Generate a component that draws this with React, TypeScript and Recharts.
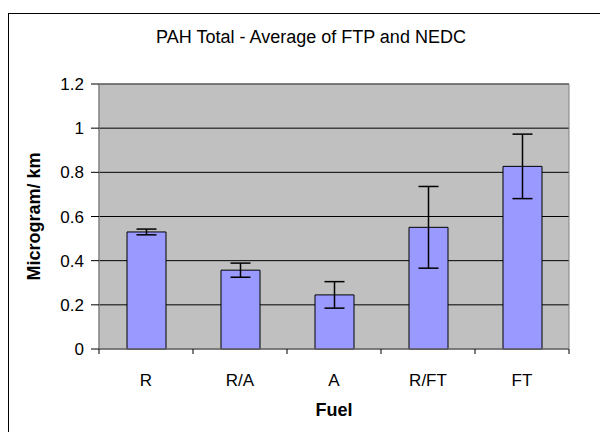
import { BarChart, Bar, XAxis, YAxis, CartesianGrid, ErrorBar, ReferenceArea } from "recharts"

const fuels = ["R", "R/A", "A", "R/FT", "FT"]
const pahTotal = [0.53, 0.357, 0.245, 0.551, 0.827]
const pahError = [0.013, 0.032, 0.06, 0.185, 0.146]
const yTicks = [0, 0.2, 0.4, 0.6, 0.8, 1, 1.2]

const data = fuels.map((fuel, i) => ({ fuel, value: pahTotal[i], err: pahError[i] }))

const FONT = '"Liberation Sans", Arial, Helvetica, sans-serif'

function FuelTick(props: any) {
  const { x, y, payload, index } = props
  const off = payload?.offset ?? 47
  return (
    <g>
      <line x1={x - off} y1={y} x2={x - off} y2={y + 5} stroke="#000" />
      {index === fuels.length - 1 && (
        <line x1={x + off} y1={y} x2={x + off} y2={y + 5} stroke="#000" />
      )}
      <text x={x} y={y + 37} textAnchor="middle" fontSize={17} fontFamily={FONT} fill="#000">
        {payload.value}
      </text>
    </g>
  )
}

export default function App() {
  return (
    <div
      style={{
        position: "absolute",
        left: 0,
        top: 0,
        width: 600,
        height: 432,
        overflow: "hidden",
        background: "#fff",
      }}
    >
      <div
        style={{
          position: "absolute",
          left: 8,
          top: 13,
          width: 620,
          height: 450,
          border: "1px solid #000",
        }}
      />
      <div
        style={{
          position: "absolute",
          left: 8,
          top: 27,
          width: 606,
          textAlign: "center",
          fontFamily: FONT,
          fontSize: 18,
          color: "#000",
        }}
      >
        PAH Total - Average of FTP and NEDC
      </div>
      <div style={{ position: "absolute", left: 0, top: 0 }}>
        <BarChart
          width={600}
          height={432}
          data={data}
          margin={{ top: 84, right: 31, bottom: 0, left: 0 }}
          barSize={39}
        >
          <CartesianGrid
            vertical={false}
            stroke="#000"
            fill="#c0c0c0"
            fillOpacity={1}
          />
          <ReferenceArea y1={0} y2={1.2} fill="none" stroke="#808080" ifOverflow="visible" />
          <XAxis
            dataKey="fuel"
            height={83}
            tickLine={false}
            tickSize={0}
            tickMargin={0}
            axisLine={{ stroke: "#808080" }}
            tick={<FuelTick />}
            interval={0}
            label={{
              content: (p: any) => {
                const vb = p.viewBox || { x: 99, y: 349, width: 470, height: 83 }
                return (
                  <text
                    x={vb.x + vb.width / 2}
                    y={vb.y + 67}
                    textAnchor="middle"
                    fontSize={18}
                    fontWeight="bold"
                    fontFamily={FONT}
                    fill="#000"
                  >
                    Fuel
                  </text>
                )
              },
            }}
          />
          <YAxis
            width={99}
            domain={[0, 1.2]}
            ticks={yTicks}
            interval={0}
            tickSize={8}
            tickMargin={7}
            axisLine={{ stroke: "#808080" }}
            tickLine={{ stroke: "#000" }}
            tick={{ fontSize: 17, fontFamily: FONT, fill: "#000" }}
            label={{
              content: (p: any) => {
                const vb = p.viewBox || { x: 0, y: 84, width: 99, height: 265 }
                const cx = vb.x + 40
                const cy = vb.y + vb.height / 2
                return (
                  <text
                    x={cx}
                    y={cy}
                    transform={`rotate(-90 ${cx} ${cy})`}
                    textAnchor="middle"
                    fontSize={18}
                    fontWeight="bold"
                    fontFamily={FONT}
                    fill="#000"
                  >
                    Microgram/ km
                  </text>
                )
              },
            }}
          />
          <Bar dataKey="value" fill="#9999ff" stroke="#000" strokeWidth={1} isAnimationActive={false}>
            <ErrorBar dataKey="err" width={10} stroke="#000" strokeWidth={1.5} isAnimationActive={false} />
          </Bar>
        </BarChart>
      </div>
    </div>
  )
}
